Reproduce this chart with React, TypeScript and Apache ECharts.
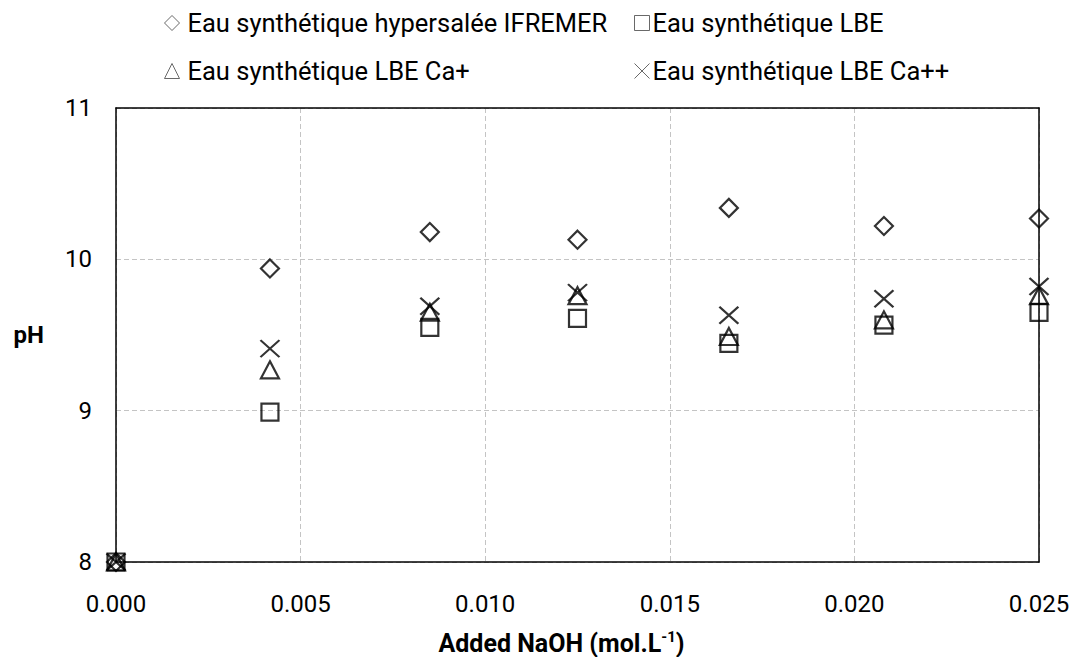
import React, { useEffect, useRef } from "react";
import * as echarts from "echarts";

const xValues = [0, 0.00417, 0.0085, 0.0125, 0.0166, 0.0208, 0.025];
const phIfremer = [8, 9.94, 10.18, 10.13, 10.34, 10.22, 10.27];
const phLBE = [8, 8.99, 9.55, 9.61, 9.445, 9.565, 9.65];
const phCaPlus = [8, 9.27, 9.65, 9.76, 9.49, 9.6, 9.76];
const phCaPlusPlus = [8, 9.41, 9.69, 9.78, 9.63, 9.74, 9.82];

const seriesNames = [
  "Eau synthétique hypersalée IFREMER",
  "Eau synthétique LBE",
  "Eau synthétique LBE Ca+",
  "Eau synthétique LBE Ca++",
];

const FONT = "Roboto";
const X_SYMBOL = "path://M0,0L10,10M10,0L0,10";

function pairs(ys: number[]) {
  return xValues.map((x, i) => [x, ys[i]]);
}

export default function App() {
  const ref = useRef<HTMLDivElement>(null);
  useEffect(() => {
    document.body.style.margin = "0";
    const chart = echarts.init(ref.current!, undefined, { renderer: "svg" });
    const hollow = (bw: number) => ({
      color: "rgba(0,0,0,0)",
      borderColor: "#000",
      borderWidth: bw,
    });
    const legendCommon = {
      orient: "vertical" as const,
      itemWidth: 15,
      itemHeight: 15,
      itemGap: 22,
      textStyle: { fontFamily: FONT, fontSize: 25.5, color: "#000", padding: [0, 0, 0, 3] },
      itemStyle: { borderWidth: 1, borderColor: "#444" },
      selectedMode: false,
    };
    const gridLine = { show: true, lineStyle: { color: "#c4c4c4", type: [5, 3], width: 1 } };
    const blackLine = { show: true, onZero: false, lineStyle: { color: "#000", width: 1.5 } };
    chart.setOption({
      animation: false,
      textStyle: { fontFamily: FONT },
      legend: [
        { ...legendCommon, left: 159, top: 5, data: [seriesNames[0], seriesNames[2]] },
        {
          ...legendCommon,
          left: 629,
          top: 5,
          textStyle: { ...legendCommon.textStyle, padding: [0, 0, 0, -2] },
          data: [seriesNames[1], seriesNames[3]],
        },
      ],
      grid: {
        left: 116,
        right: 36,
        top: 108,
        bottom: 95,
        containLabel: false,
        outerBoundsMode: "none",
      },
      xAxis: [
        {
          type: "value",
          min: 0,
          max: 0.025,
          interval: 0.005,
          axisLine: blackLine,
          axisTick: { show: false },
          splitLine: gridLine,
          axisLabel: {
            fontFamily: FONT,
            fontSize: 24,
            color: "#000",
            margin: 30,
            formatter: (v: number) => v.toFixed(3),
          },
          name: "{a|Added NaOH (mol.L}{s|-1}{a|)}",
          nameLocation: "middle",
          nameGap: 67,
          nameTextStyle: {
            padding: [0, 32, 0, 0],
            rich: {
              a: { fontFamily: FONT, fontSize: 25, fontWeight: "bold", color: "#000", lineHeight: 28 },
              s: { fontFamily: FONT, fontSize: 15, fontWeight: "bold", color: "#000", verticalAlign: "top", lineHeight: 28 },
            },
          },
        },
        {
          type: "value",
          position: "top",
          min: 0,
          max: 0.025,
          interval: 0.005,
          axisLine: blackLine,
          axisTick: { show: false },
          axisLabel: { show: false },
          splitLine: { show: false },
        },
      ],
      yAxis: [
        {
          type: "value",
          min: 8,
          max: 11,
          interval: 1,
          axisLine: blackLine,
          axisTick: { show: false },
          splitLine: gridLine,
          axisLabel: { fontFamily: FONT, fontSize: 24, color: "#000", margin: 24 },
          name: "pH",
          nameLocation: "middle",
          nameRotate: 0,
          nameGap: 72,
          nameTextStyle: { fontFamily: FONT, fontSize: 24, fontWeight: "bold", color: "#000" },
        },
        {
          type: "value",
          position: "right",
          min: 8,
          max: 11,
          interval: 1,
          axisLine: blackLine,
          axisTick: { show: false },
          axisLabel: { show: false },
          splitLine: { show: false },
        },
      ],
      series: [
        {
          name: seriesNames[0],
          type: "scatter",
          symbol: "diamond",
          symbolSize: 18,
          clip: false,
          itemStyle: hollow(2.2),
          data: pairs(phIfremer),
        },
        {
          name: seriesNames[1],
          type: "scatter",
          symbol: "rect",
          symbolSize: 17,
          clip: false,
          itemStyle: hollow(2.2),
          data: pairs(phLBE),
        },
        {
          name: seriesNames[2],
          type: "scatter",
          symbol: "triangle",
          symbolSize: [18, 17],
          clip: false,
          itemStyle: hollow(2.2),
          data: pairs(phCaPlus),
        },
        {
          name: seriesNames[3],
          type: "scatter",
          symbol: X_SYMBOL,
          symbolSize: [19, 17],
          clip: false,
          itemStyle: hollow(2.2),
          data: pairs(phCaPlusPlus),
        },
      ],
    });
    return () => chart.dispose();
  }, []);
  return <div ref={ref} style={{ width: 1075, height: 657 }} />;
}
